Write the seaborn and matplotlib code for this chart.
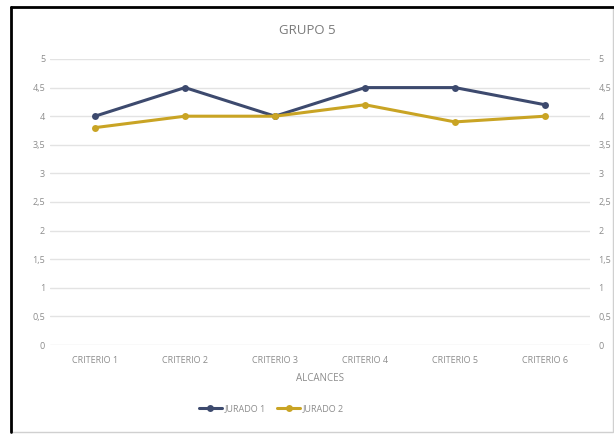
import pandas as pd
import matplotlib.pyplot as plt
import seaborn as sns
from matplotlib.patches import Rectangle

# ---- DATA ----
criterios = ["CRITERIO 1", "CRITERIO 2", "CRITERIO 3", "CRITERIO 4", "CRITERIO 5", "CRITERIO 6"]
jurado_1 = [4.0, 4.5, 4.0, 4.5, 4.5, 4.2]
jurado_2 = [3.8, 4.0, 4.0, 4.2, 3.9, 4.0]
series_names = ["JURADO 1", "JURADO 2"]
y_ticks = [0, 0.5, 1, 1.5, 2, 2.5, 3, 3.5, 4, 4.5, 5]
y_labels = ["0", "0,5", "1", "1,5", "2", "2,5", "3", "3,5", "4", "4,5", "5"]

df = pd.DataFrame({
    "criterio": criterios * 2,
    "valor": jurado_1 + jurado_2,
    "jurado": [series_names[0]] * len(criterios) + [series_names[1]] * len(criterios),
})

sns.set_style("white")
plt.rcParams["font.family"] = ["Open Sans", "DejaVu Sans"]

txt = "#8c8c8c"
fig = plt.figure(figsize=(6.14, 4.36), dpi=100)
ax = fig.add_axes([0.0814, 0.2087, 0.8795, 0.656])

sns.lineplot(data=df, x="criterio", y="valor", hue="jurado", sort=False,
             palette=["#3d4a6e", "#c9a424"], marker="o", markersize=5,
             markeredgewidth=0, linewidth=2.2, ax=ax)

ax.set_xlim(-0.5, len(criterios) - 0.5)
ax.set_ylim(0, 5)
ax.set_yticks(y_ticks)
ax.set_yticklabels(y_labels)
ax.yaxis.grid(True, color="#e3e3e3", linewidth=1)
for s in ax.spines.values():
    s.set_visible(False)
ax.tick_params(axis="both", length=0, labelsize=6.5, labelcolor=txt)
ax.tick_params(axis="x", pad=8)
ax.set_ylabel("")
ax.set_xlabel("ALCANCES", fontsize=7, color=txt, labelpad=6)

# secondary axis with same ticks
ax2 = ax.twinx()
ax2.set_ylim(0, 5)
ax2.set_yticks(y_ticks)
ax2.set_yticklabels(y_labels)
ax2.tick_params(axis="y", length=0, labelsize=6.5, labelcolor=txt, pad=6)
for s in ax2.spines.values():
    s.set_visible(False)

fig.text(0.5, 0.93, "GRUPO 5", ha="center", va="center", fontsize=9.5, color="#7a7a7a")

leg = ax.legend(loc="upper center", bbox_to_anchor=(0.41, -0.18), ncol=2, frameon=False,
                fontsize=6.5, handlelength=2.6, handletextpad=0.3, columnspacing=1.2)
for t in leg.get_texts():
    t.set_color(txt)

# chart frame
fig.patches.append(Rectangle((0.018, 0.01), 0.98, 0.974, transform=fig.transFigure,
                             fill=False, edgecolor="#d0d0d0", linewidth=1))
fig.lines.append(plt.Line2D([0.018, 0.018], [0.01, 0.984], transform=fig.transFigure,
                            color="black", linewidth=2))
fig.lines.append(plt.Line2D([0.018, 1.0], [0.984, 0.984], transform=fig.transFigure,
                            color="black", linewidth=2))

fig.savefig("out.png", dpi=100)
